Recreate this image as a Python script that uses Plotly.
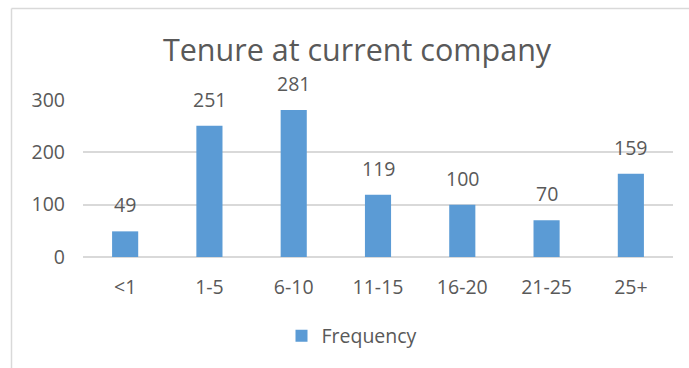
import plotly.graph_objects as go

categories = ["<1", "1-5", "6-10", "11-15", "16-20", "21-25", "25+"]
frequency = [49, 251, 281, 119, 100, 70, 159]
title_text = "Tenure at current company"
series_name = "Frequency"

BAR = "#5B9BD5"
TXT = "#595959"
GRID = "#D9D9D9"
FONT = "Open Sans"

W, H = 689, 368
L, R, T, B = 83, 16, 100, 111
pw, ph = W - L - R, H - T - B

def px_x(x):
    return (x - L) / pw

def px_y(y):
    return (H - B - y) / ph

fig = go.Figure()
fig.add_trace(go.Bar(
    x=categories, y=frequency, name=series_name,
    marker=dict(color=BAR, line=dict(width=0)),
    showlegend=True,
))

for c, v in zip(categories, frequency):
    fig.add_annotation(x=c, y=v, text=str(v), showarrow=False,
                       yanchor="bottom", yshift=11,
                       font=dict(family=FONT, size=19.5, color=TXT))

fig.update_layout(
    width=W, height=H,
    margin=dict(l=L, r=R, t=T, b=B, autoexpand=False),
    paper_bgcolor="white", plot_bgcolor="white",
    bargap=0.69,
    title=dict(text=title_text, xref="container", x=357 / W, xanchor="center",
               yref="container", y=1 - 50 / H, yanchor="middle",
               font=dict(family=FONT, size=30.5, color=TXT)),
    xaxis=dict(showgrid=False, showline=False, zeroline=False,
               ticks="", ticklabelstandoff=16,
               tickfont=dict(family=FONT, size=19.5, color=TXT)),
    yaxis=dict(range=[0, 300], dtick=100, showgrid=True, gridcolor=GRID,
               gridwidth=1.5, zeroline=True, zerolinecolor=GRID, zerolinewidth=1.5,
               showline=False, ticks="", ticklabelstandoff=17,
               tickfont=dict(family=FONT, size=19.5, color=TXT)),
    legend=dict(orientation="h", x=px_x(352), xanchor="center",
                y=px_y(336), yanchor="middle",
                font=dict(family=FONT, size=19.5, color=TXT),
                itemwidth=30, bgcolor="rgba(0,0,0,0)"),
    shapes=[
        dict(type="line", xref="paper", yref="paper",
             x0=px_x(11.5), x1=px_x(700), y0=px_y(8.5), y1=px_y(8.5),
             line=dict(color=GRID, width=1.5)),
        dict(type="line", xref="paper", yref="paper",
             x0=px_x(11.5), x1=px_x(11.5), y0=px_y(8.5), y1=px_y(380),
             line=dict(color=GRID, width=1.5)),
    ],
)

fig.write_html("out.html")
